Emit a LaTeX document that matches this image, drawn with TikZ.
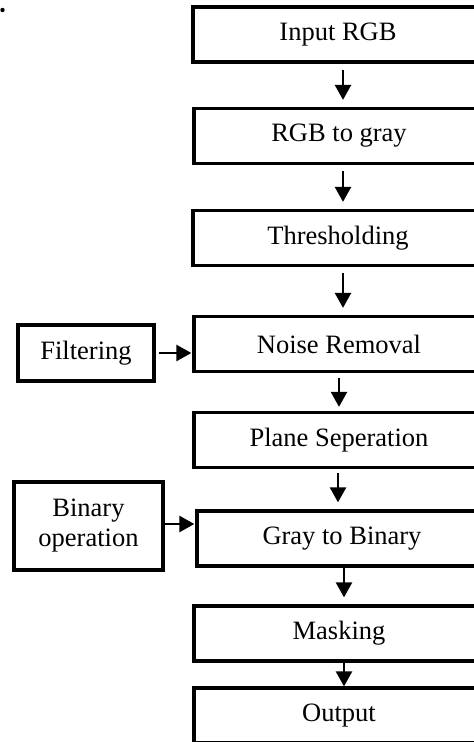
\documentclass[tikz,border=0pt]{standalone}
\usepackage{fontspec}
\setmainfont{Liberation Serif}
\usepackage{tikz}
\usetikzlibrary{arrows.meta}

\tikzset{
  blk/.style={draw, line width=3.3pt, minimum width=290pt, minimum height=55pt,
    inner sep=0pt, align=center, font=\fontsize{26.5}{30}\selectfont},
  arr/.style={-{Triangle[width=16pt,length=15pt]}, line width=2.6pt,
    shorten <=6pt, shorten >=7pt}
}

\begin{document}
\begin{tikzpicture}[x=1pt,y=-1pt]
                    \path[use as bounding box, clip] (0,0) rectangle (474,742);
                    \fill (2.5,10) circle (2.2);
                    % main chain
                    \node[blk] (in) at (338,34.5) {Input RGB};
                    \node[blk] (gray) at (339,136) {RGB to gray};
                    \node[blk] (thr) at (338,238) {Thresholding};
                    \node[blk] (noise) at (339,344) {Noise Removal};
                    \node[blk] (plane) at (339,440) {Plane Seperation};
                    \node[blk] (bin) at (342,538.5) {Gray to Binary};
                    \node[blk] (mask) at (339,633.5) {Masking};
                    \node[blk] (out) at (339,715.5) {Output};
                    % side inputs
                    \node[blk, minimum width=136pt, minimum height=56pt] (filt) at (86,353) {Filtering};
                    \node[blk, minimum width=149pt, minimum height=88pt] (binop) at (88.5,526) {Binary\\operation};
                    % arrows
                    \draw[arr] ([xshift=5pt]in.south) -- ([xshift=4pt]gray.north);
                    \draw[arr] ([xshift=4pt]gray.south) -- ([xshift=5pt]thr.north);
                    \draw[arr] ([xshift=5pt]thr.south) -- ([xshift=4pt]noise.north);
                    \draw[arr, shorten <=5pt, shorten >=4pt] (noise.south) -- (plane.south |- plane.north);
                    \draw[arr, shorten <=4pt] ([xshift=-1pt]plane.south) -- ([xshift=-4pt]bin.north);
                    \draw[arr, shorten <=0pt] ([xshift=2pt]bin.south) -- ([xshift=5pt]mask.north);
                    \draw[arr, shorten <=0pt, shorten >=0pt] ([xshift=5pt]mask.south) -- ([xshift=5pt]out.north);
                    \draw[arr, shorten <=3pt, shorten >=1pt] (filt.east) -- (filt.east -| noise.west);
                    \draw[arr, shorten <=0pt, shorten >=1pt] ([yshift=2pt]binop.east) -- ([yshift=2pt]binop.east -| bin.west);
\end{tikzpicture}
\end{document}
